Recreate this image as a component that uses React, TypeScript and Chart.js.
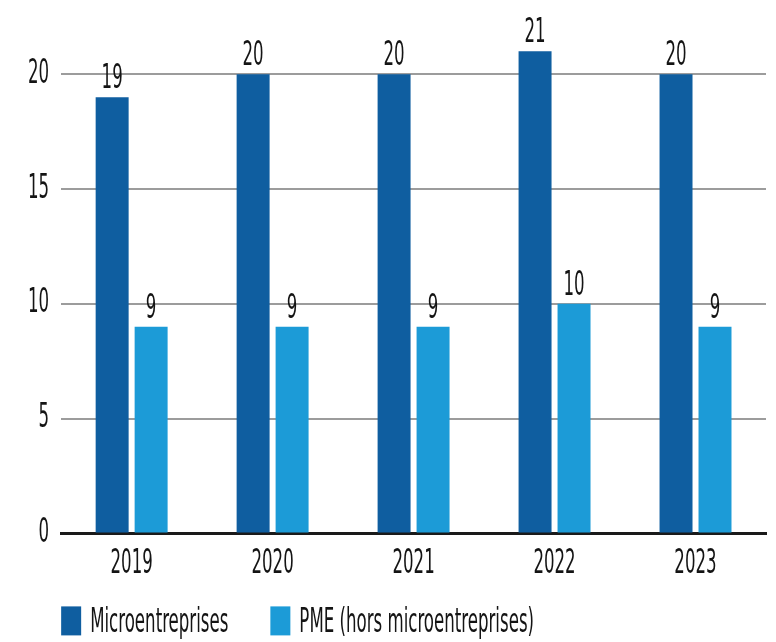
import React, { useEffect, useRef } from 'react';
import { Chart, registerables } from 'chart.js';

Chart.register(...registerables);

const categories = ['2019', '2020', '2021', '2022', '2023'];
const microValues = [19, 20, 20, 21, 20];
const pmeValues = [9, 9, 9, 10, 9];
const seriesNames = ['Microentreprises', 'PME (hors microentreprises)'];
const yTicks = [0, 5, 10, 15, 20];

const FONT = "'DejaVu Sans Condensed', 'Liberation Sans Narrow', 'Arial Narrow', sans-serif";
const DARK = '#0f5ea0';
const LIGHT = '#1c9bd7';
const TEXT = '#141414';
const SX = 0.56; // horizontal squeeze to mimic the tall condensed typeface

function squeezeText(ctx: any) {
  if (ctx.__squeezed) return;
  ctx.__squeezed = true;
  const origFill = ctx.fillText.bind(ctx);
  const origMeasure = ctx.measureText.bind(ctx);
  ctx.fillText = (text: string, x: number, y: number, maxWidth?: number) => {
    ctx.save();
    ctx.translate(x, y);
    ctx.scale(SX, 1);
    if (maxWidth === undefined || maxWidth === null) origFill(text, 0, 0);
    else origFill(text, 0, 0, maxWidth / SX);
    ctx.restore();
  };
  ctx.measureText = (text: string) => {
    const m = origMeasure(text);
    return {
      width: m.width * SX,
      actualBoundingBoxAscent: m.actualBoundingBoxAscent,
      actualBoundingBoxDescent: m.actualBoundingBoxDescent,
      actualBoundingBoxLeft: m.actualBoundingBoxLeft * SX,
      actualBoundingBoxRight: m.actualBoundingBoxRight * SX,
      fontBoundingBoxAscent: m.fontBoundingBoxAscent,
      fontBoundingBoxDescent: m.fontBoundingBoxDescent,
    };
  };
}

const valueLabels = {
  id: 'valueLabels',
  afterDatasetsDraw(chart: any) {
    const ctx = chart.ctx;
    ctx.save();
    ctx.font = `33px ${FONT}`;
    ctx.fillStyle = TEXT;
    ctx.textAlign = 'center';
    ctx.textBaseline = 'alphabetic';
    chart.data.datasets.forEach((ds: any, i: number) => {
      const meta = chart.getDatasetMeta(i);
      meta.data.forEach((bar: any, j: number) => {
        ctx.fillText(String(ds.data[j]), bar.x, bar.y - 9);
      });
    });
    ctx.restore();
  },
};

const customLegend = {
  id: 'customLegend',
  afterDraw(chart: any) {
    const ctx = chart.ctx;
    const area = chart.chartArea;
    ctx.save();
    ctx.font = `33px ${FONT}`;
    ctx.textBaseline = 'alphabetic';
    ctx.textAlign = 'left';
    let x = area.left;
    const y = area.bottom + 73;
    chart.data.datasets.forEach((ds: any) => {
      ctx.fillStyle = ds.backgroundColor;
      ctx.fillRect(x, y, 20, 29);
      ctx.fillStyle = TEXT;
      ctx.fillText(ds.label, x + 29, y + 26);
      x += 29 + ctx.measureText(ds.label).width + 42;
    });
    ctx.restore();
  },
};

export default function App() {
  const ref = useRef<HTMLCanvasElement | null>(null);

  useEffect(() => {
    if (!ref.current) return;
    document.documentElement.style.overflow = 'hidden';
    const c2d = ref.current.getContext('2d');
    squeezeText(c2d);
    const chart = new Chart(ref.current, {
      type: 'bar',
      data: {
        labels: categories,
        datasets: [
          {
            label: seriesNames[0],
            data: microValues,
            backgroundColor: DARK,
            categoryPercentage: 0.553,
            barPercentage: 0.846,
          },
          {
            label: seriesNames[1],
            data: pmeValues,
            backgroundColor: LIGHT,
            categoryPercentage: 0.553,
            barPercentage: 0.846,
          },
        ],
      },
      options: {
        animation: false,
        responsive: false,
        devicePixelRatio: 1,
        layout: { padding: { left: 8, right: 2, top: 28, bottom: 55 } },
        plugins: {
          legend: { display: false },
          tooltip: { enabled: false },
        },
        scales: {
          x: {
            grid: { display: false },
            border: { display: true, color: '#1a1a1a', width: 3 },
            ticks: {
              color: TEXT,
              font: { family: FONT, size: 33 },
              padding: 3,
            },
          },
          y: {
            min: 0,
            max: 21.5,
            afterBuildTicks: (axis: any) => {
              axis.ticks = yTicks.map((v) => ({ value: v }));
            },
            border: { display: false },
            grid: {
              drawTicks: false,
              lineWidth: 2,
              color: (c: any) => (c.tick && c.tick.value === 0 ? 'rgba(0,0,0,0)' : '#9c9c9c'),
            },
            ticks: {
              color: TEXT,
              font: { family: FONT, size: 33 },
              padding: 12,
            },
          },
        },
      },
      plugins: [valueLabels, customLegend],
    });
    return () => chart.destroy();
  }, []);

  return (
    <div style={{ width: 760, height: 634 }}>
      <canvas ref={ref} width={760} height={634} style={{ display: 'block' }} />
    </div>
  );
}
